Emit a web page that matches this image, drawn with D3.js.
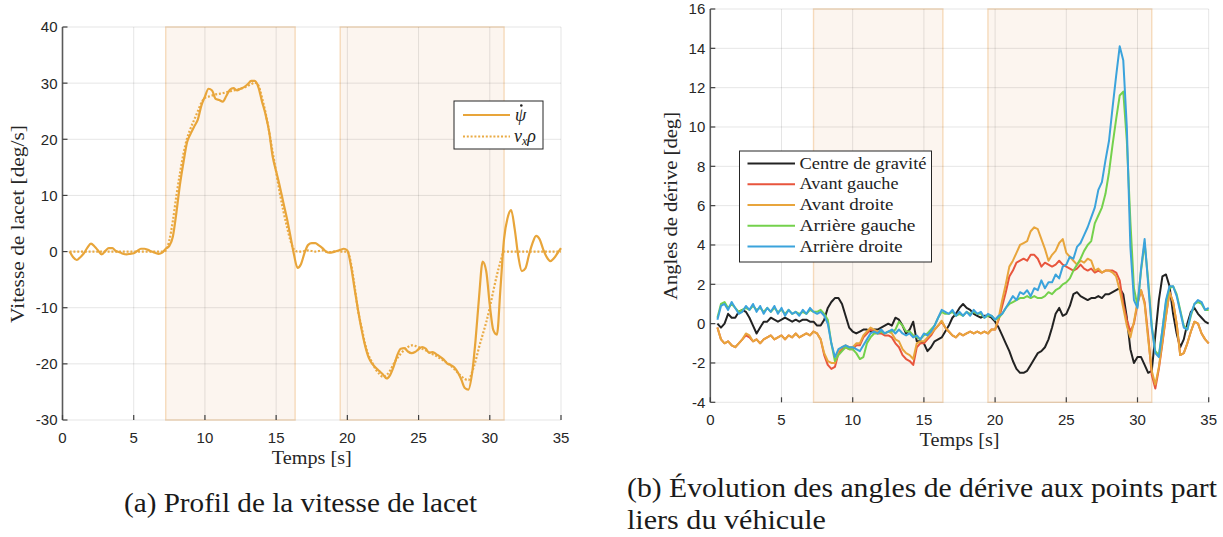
<!DOCTYPE html>
<html><head><meta charset="utf-8">
<script src="https://cdn.jsdelivr.net/npm/d3@7"></script>
<style>body{margin:0;background:#fff}svg{display:block}</style>
</head><body><svg id="c" width="1223" height="537"></svg>
<script>
// ---------------- DATA ----------------
const time = d3.range(0.5, 35.0001, 0.25); // sampling instants [s]
const xTicks = [0, 5, 10, 15, 20, 25, 30, 35];
const yawTicks = [-30, -20, -10, 0, 10, 20, 30, 40];
const slipTicks = [-4, -2, 0, 2, 4, 6, 8, 10, 12, 14, 16];
const shadeIntervals = [[7.25, 16.33], [19.5, 31.0]];

// (a) yaw rate psi-dot [deg/s]
const yawRate = [0.0, -1.0,
 -1.5, -1.0, -0.3, 0.7,
 1.4, 0.9, 0.2, -0.5,
 0.1, 0.6, 0.6, 0.1,
 -0.1, -0.4, -0.5, -0.4,
 -0.3, 0.1, 0.5, 0.5,
 0.3, 0.0, -0.2, -0.4,
 -0.2, 0.5, 1.0, 2.7,
 7.0, 12.0, 16.0, 19.5,
 21.0, 22.3, 23.5, 26.0,
 27.6, 29.0, 28.7, 27.2,
 27.0, 26.7, 27.7, 28.8,
 29.1, 28.7, 29.0, 29.3,
 29.8, 30.4, 30.4, 29.3,
 26.8, 24.5, 21.5, 17.0,
 14.3, 11.7, 8.8, 6.0,
 2.8, -0.5, -2.9, -2.2,
 -0.2, 1.2, 1.5, 1.5,
 1.1, 0.6, 0.0, -0.2,
 -0.1, 0.1, 0.3, 0.5,
 0.2, -2.5, -6.5, -10.4,
 -13.9, -16.8, -18.9, -20.0,
 -20.7, -21.3, -21.9, -22.6,
 -22.0, -20.5, -18.5, -17.3,
 -17.2, -17.8, -18.1, -17.9,
 -17.4, -17.0, -17.3, -18.0,
 -17.9, -18.3, -18.7, -19.2,
 -19.9, -20.2, -20.6, -21.5,
 -22.8, -24.3, -24.6, -21.8,
 -15.8, -8.0, -1.8, -3.5,
 -9.5, -14.0, -14.8, -6.5,
 2.2, 6.0, 7.4, 4.0,
 -0.8, -3.5, -3.0, -0.6,
 1.5, 2.8, 2.2, 0.4,
 -1.0, -1.7, -1.2, -0.3,
 0.6];
// (a) v_x * rho [deg/s]
const yawRef = [0.0, 0.0,
 0.0, 0.0, 0.0, 0.0,
 0.0, 0.0, 0.0, 0.0,
 0.0, 0.0, 0.0, 0.0,
 0.0, 0.0, 0.0, 0.0,
 0.0, 0.0, 0.0, 0.0,
 0.0, 0.0, 0.0, 0.0,
 0.0, 0.2, 2.0, 5.5,
 10.0, 14.0, 17.5, 20.2,
 22.0, 23.5, 25.0, 26.5,
 27.4, 27.6, 27.8, 28.0,
 28.1, 28.2, 28.4, 28.5,
 28.7, 28.8, 29.0, 29.2,
 29.5, 29.8, 30.1, 29.6,
 27.5, 24.8, 21.5, 17.8,
 14.2, 10.5, 7.3, 4.5,
 2.0, 0.4, 0.0, 0.0,
 0.1, 0.2, 0.1, 0.0,
 0.1, 0.2, 0.0, -0.1,
 0.0, 0.1, 0.0, 0.0,
 0.0, -2.0, -6.0, -10.5,
 -13.5, -16.5, -18.5, -19.8,
 -21.0, -21.8, -22.3, -22.0,
 -21.2, -20.0, -19.0, -18.2,
 -17.5, -17.0, -16.7, -16.8,
 -17.0, -17.3, -17.6, -18.0,
 -18.3, -18.6, -19.0, -19.4,
 -19.8, -20.3, -20.9, -21.6,
 -22.2, -22.7, -22.9, -21.5,
 -19.5, -17.0, -14.8, -12.6,
 -10.0, -7.0, -4.2, -1.8,
 0.0, 0.0, 0.0, 0.0,
 0.0, 0.0, 0.0, 0.0,
 0.0, 0.0, 0.0, 0.0,
 0.0, 0.0, 0.0, 0.0,
 0.0];

// (b) slip angles [deg]
const slipCG = [0.0, -0.2,
 0.0, 0.5, 0.3, 0.3,
 0.6, 0.7, 0.6, 0.3,
 -0.1, -0.5, -0.2, 0.1,
 0.1, 0.3, 0.2, 0.1,
 0.2, 0.3, 0.2, 0.1,
 0.2, 0.1, 0.2, 0.2,
 0.1, 0.1, -0.1, -0.1,
 0.2, 0.8, 1.1, 1.3,
 1.3, 1.0, 0.4, -0.2,
 -0.4, -0.5, -0.4, -0.3,
 -0.3, -0.4, -0.3, -0.3,
 -0.2, -0.1, 0.0, -0.1,
 0.3, 0.2, -0.1, -0.5,
 -0.3, 0.1, -0.9, -0.9,
 -1.0, -1.4, -1.2, -0.9,
 -0.8, -0.7, -0.4, -0.1,
 0.3, 0.5, 0.8, 1.0,
 0.8, 0.7, 0.5, 0.4,
 0.3, 0.4, 0.4, 0.3,
 0.1, -0.2, -0.6, -1.0,
 -1.4, -1.9, -2.3, -2.5,
 -2.5, -2.4, -2.1, -1.8,
 -1.5, -1.4, -1.2, -0.8,
 -0.2, 0.5, 0.8, 0.4,
 0.5, 0.9, 1.5, 1.6,
 1.4, 1.3, 1.2, 1.3,
 1.3, 1.4, 1.3, 1.5,
 1.5, 1.6, 1.7, 1.8,
 1.5, 0.3, -1.3, -2.0,
 -1.7, -1.7, -2.1, -2.5,
 -2.4, -0.6, 1.2, 2.4,
 2.5, 1.9, 0.5, -0.5,
 -1.2, -0.8, 0.0, 0.6,
 0.8, 0.5, 0.3, 0.1,
 0.0];
const slipFL = [-0.2, -0.8,
 -1.0, -0.9, -1.1, -1.2,
 -1.0, -0.8, -0.6, -0.7,
 -0.9, -0.8, -1.0, -0.8,
 -0.7, -0.6, -0.8, -0.7,
 -0.6, -0.8, -0.6, -0.7,
 -0.5, -0.7, -0.6, -0.5,
 -0.6, -0.4, -0.5, -0.8,
 -1.6, -2.1, -2.3, -2.2,
 -1.5, -1.3, -1.2, -1.3,
 -1.3, -1.1, -1.1, -0.7,
 -0.5, -0.3, -0.4, -0.5,
 -0.5, -0.6, -0.6, -0.7,
 -1.0, -1.2, -1.6, -1.8,
 -1.9, -2.1, -1.2, -1.0,
 -1.0, -0.8, -0.6, -0.3,
 -0.1, 0.1, -0.2, -0.4,
 -0.6, -0.7, -0.5, -0.6,
 -0.5, -0.4, -0.5, -0.4,
 -0.5, -0.4, -0.5, -0.3,
 -0.3, 0.2, 0.9, 1.6,
 2.4, 2.7, 3.1, 3.2,
 3.3, 3.2, 3.5, 3.5,
 3.3, 2.9, 3.1, 3.0,
 2.9, 3.0, 3.2, 3.0,
 2.9, 2.8, 2.7, 2.8,
 3.0, 2.8, 2.7, 2.8,
 2.6, 2.7, 2.6, 2.7,
 2.7, 2.7, 2.6, 2.2,
 1.0, 0.2, -0.4, 0.0,
 1.0, 1.7, 1.1, -0.6,
 -2.6, -3.3, -2.3, -1.0,
 0.4, 1.6, 1.1, 0.0,
 -1.6, -1.5, -1.0, -0.4,
 0.1, 0.0, -0.5, -0.8,
 -1.0];
const slipFR = [-0.2, -0.8,
 -1.0, -0.9, -1.1, -1.2,
 -1.0, -0.8, -0.5, -0.6,
 -0.9, -0.8, -1.0, -0.8,
 -0.7, -0.6, -0.8, -0.7,
 -0.6, -0.8, -0.6, -0.7,
 -0.5, -0.7, -0.6, -0.5,
 -0.6, -0.4, -0.5, -0.8,
 -1.5, -1.9, -2.0, -2.0,
 -1.4, -1.2, -1.1, -1.2,
 -1.2, -1.0, -1.0, -0.6,
 -0.4, -0.2, -0.3, -0.4,
 -0.4, -0.5, -0.4, -0.5,
 -0.8, -0.9, -1.3, -1.5,
 -1.6, -1.8, -1.0, -0.9,
 -0.9, -0.7, -0.5, -0.3,
 -0.1, 0.15, -0.2, -0.4,
 -0.6, -0.7, -0.5, -0.6,
 -0.5, -0.4, -0.5, -0.4,
 -0.5, -0.4, -0.5, -0.3,
 -0.3, 0.3, 1.2, 2.0,
 2.9, 3.2, 3.6, 4.0,
 4.1, 4.2, 4.7, 4.9,
 4.8, 4.3, 3.8, 3.2,
 3.5, 3.7, 4.1, 4.3,
 3.6, 3.4, 3.2, 3.0,
 3.2, 3.1, 3.3, 3.2,
 2.7, 2.8, 2.6, 2.7,
 2.7, 2.6, 2.4, 1.7,
 0.8, -0.1, -0.7, 0.1,
 1.1, 1.7, 1.0, -0.8,
 -2.4, -3.1, -2.2, -0.9,
 0.4, 1.6, 1.1, 0.0,
 -1.6, -1.5, -1.0, -0.4,
 0.1, 0.0, -0.5, -0.8,
 -1.0];
const slipRL = [0.3, 1.0,
 1.1, 0.8, 1.0, 0.8,
 0.6, 0.7, 0.8, 0.7,
 0.9, 0.7, 0.8, 0.6,
 0.8, 0.6, 0.8, 0.6,
 0.7, 0.5, 0.7, 0.5,
 0.6, 0.5, 0.6, 0.5,
 0.7, 0.6, 0.6, 0.7,
 0.5, 0.2, -1.0, -1.9,
 -1.6, -1.4, -1.2, -1.3,
 -1.3, -1.5, -1.8, -1.7,
 -1.0, -0.7, -0.5, -0.5,
 -0.4, -0.5, -0.4, -0.4,
 -0.3, 0.1, -0.1, -0.4,
 -0.4, -0.6, -0.7, -0.8,
 -0.6, -0.5, -0.3, -0.1,
 0.3, 0.6, 0.5, 0.5,
 0.6, 0.4, 0.5, 0.4,
 0.6, 0.5, 0.6, 0.5,
 0.5, 0.3, 0.4, 0.4,
 0.2, 0.3, 0.5, 0.8,
 1.0, 1.1, 1.2, 1.3,
 1.3, 1.4, 1.3, 1.4,
 1.3, 1.3, 1.4, 1.6,
 1.5, 1.7, 1.8, 2.0,
 2.1, 2.3, 2.7, 3.0,
 3.3, 3.7, 4.0, 4.2,
 5.1, 5.5, 5.9, 6.6,
 7.7, 9.1, 10.4, 11.6,
 11.8, 9.3, 5.2, 1.8,
 0.9, 2.7, 4.1, 2.2,
 -0.1, -1.4, -1.6, -0.3,
 1.1, 1.8, 1.9, 1.5,
 0.7, -0.1, -0.3, 0.4,
 1.0, 1.1, 1.0, 0.7,
 0.7];
const slipRR = [0.2, 0.9,
 1.0, 0.7, 1.1, 0.8,
 0.5, 0.6, 0.9, 0.7,
 1.0, 0.6, 0.9, 0.5,
 0.8, 0.6, 0.9, 0.5,
 0.8, 0.4, 0.7, 0.5,
 0.6, 0.4, 0.7, 0.5,
 0.8, 0.6, 0.5, 0.6,
 0.4, 0.0, -1.0, -1.7,
 -1.3, -1.2, -1.1, -1.2,
 -1.2, -1.3, -1.4, -1.1,
 -0.8, -0.5, -0.4, -0.5,
 -0.3, -0.5, -0.4, -0.3,
 -0.5, -0.3, -0.5, -0.6,
 -0.5, -0.7, -0.6, -0.8,
 -0.5, -0.6, -0.4, -0.1,
 0.3, 0.7, 0.6, 0.5,
 0.7, 0.4, 0.6, 0.4,
 0.6, 0.4, 0.7, 0.5,
 0.6, 0.3, 0.5, 0.4,
 0.2, 0.4, 0.5, 0.8,
 1.1, 1.4, 1.2, 1.6,
 1.5, 1.7, 1.4, 1.8,
 1.7, 2.2, 1.8, 2.1,
 2.1, 2.5, 2.3, 2.9,
 3.0, 3.4, 3.3, 3.9,
 4.1, 4.5, 4.9, 5.4,
 5.9, 6.8, 7.2, 8.3,
 9.3, 11.0, 12.6, 14.1,
 13.4, 10.0, 3.9, 1.2,
 0.8, 2.8, 4.3, 2.0,
 -0.2, -1.5, -1.7, -0.3,
 1.2, 1.9, 1.9, 1.4,
 0.6, -0.2, -0.3, 0.5,
 1.0, 1.2, 1.1, 0.7,
 0.8];

const slipNames = ["Centre de gravité", "Avant gauche", "Avant droite", "Arrière gauche", "Arrière droite"];
const slipColors = ["#222222", "#e8553d", "#e8a53c", "#74d14c", "#3ba3dc"];
const slipSeries = [slipCG, slipFL, slipFR, slipRL, slipRR];

// ---------------- DRAW ----------------
const svg = d3.select("#c");
svg.append("rect").attr("width", 1223).attr("height", 537).attr("fill", "#fff");

function panel(o) {
  const x = d3.scaleLinear().domain([0, 35]).range([o.x0, o.x1]);
  const y = d3.scaleLinear().domain(o.yDomain).range([o.yB, o.yT]);
  const g = svg.append("g");
  // shaded intervals
  g.selectAll("rect.sh").data(shadeIntervals).join("rect")
    .attr("x", d => x(d[0])).attr("width", d => x(d[1]) - x(d[0]))
    .attr("y", o.yT).attr("height", o.yB - o.yT)
    .attr("fill", "#fcf5ef").attr("stroke", "#f6dabb").attr("stroke-width", 1.4);
  // grid
  g.selectAll("line.gx").data(xTicks.slice(1)).join("line")
    .attr("x1", d => x(d)).attr("x2", d => x(d)).attr("y1", o.yT).attr("y2", o.yB)
    .attr("stroke", "rgba(0,0,0,0.1)").attr("stroke-width", 1);
  g.selectAll("line.gy").data(o.yTicks).join("line")
    .attr("y1", d => y(d)).attr("y2", d => y(d)).attr("x1", o.x0).attr("x2", o.x1)
    .attr("stroke", "rgba(0,0,0,0.1)").attr("stroke-width", 1);
  // data lines
  o.series.forEach(s => {
    const line = d3.line().x((d, i) => x(time[i])).y(d => y(d)).curve(s.curve || d3.curveLinear);
    g.append("path").datum(s.values).attr("d", line)
      .attr("fill", "none").attr("stroke", s.color).attr("stroke-width", s.width || 2)
      .attr("stroke-linejoin", "round")
      .attr("stroke-dasharray", s.dash || null);
  });
  // axes
  g.append("line").attr("x1", o.x0).attr("x2", o.x0).attr("y1", o.yT).attr("y2", o.yB)
    .attr("stroke", "#5a5a5a").attr("stroke-width", 1.6);
  g.selectAll("line.ty").data(o.yTicks).join("line")
    .attr("x1", o.x0).attr("x2", o.x0 + 5).attr("y1", d => y(d)).attr("y2", d => y(d))
    .attr("stroke", "#404040").attr("stroke-width", 1.2);
  g.selectAll("line.tx").data(xTicks).join("line")
    .attr("x1", d => x(d)).attr("x2", d => x(d)).attr("y1", o.yB).attr("y2", o.yB - 5)
    .attr("stroke", "#404040").attr("stroke-width", 1.2);
  g.selectAll("text.ly").data(o.yTicks).join("text")
    .attr("x", o.x0 - 5).attr("y", d => y(d)).attr("dy", "0.36em")
    .attr("text-anchor", "end").attr("font-family", "Liberation Sans, Arial, sans-serif")
    .attr("font-size", 15).attr("fill", "#262626").text(d => d);
  g.selectAll("text.lx").data(xTicks).join("text")
    .attr("x", d => x(d)).attr("y", o.yB + 23)
    .attr("text-anchor", "middle").attr("font-family", "Liberation Sans, Arial, sans-serif")
    .attr("font-size", 15).attr("fill", "#262626").text(d => d);
  // axis titles
  g.append("text").attr("x", (o.x0 + o.x1) / 2).attr("y", o.yB + 44)
    .attr("text-anchor", "middle").attr("font-family", "Liberation Serif, serif")
    .attr("font-size", 18).attr("fill", "#262626")
    .attr("textLength", 80).attr("lengthAdjust", "spacingAndGlyphs").text("Temps [s]");
  g.append("text").attr("transform", `translate(${o.ylabX},${o.ylabY}) rotate(-90)`)
    .attr("text-anchor", "middle").attr("font-family", "Liberation Serif, serif")
    .attr("font-size", 18).attr("fill", "#262626")
    .attr("textLength", o.ylabLen).attr("lengthAdjust", "spacingAndGlyphs").text(o.ylab);
  return {x, y, g};
}

// Panel (a)
const pa = panel({
  x0: 62.5, x1: 561, yT: 27, yB: 420, yDomain: [-30, 40], yTicks: yawTicks,
  ylab: "Vitesse de lacet [deg/s]", ylabX: 24, ylabY: 224, ylabLen: 198,
  series: [
    {values: yawRef, color: "#eaab45", dash: "2,1.8", width: 2.2, curve: d3.curveMonotoneX},
    {values: yawRate, color: "#e8a53a", width: 2.2, curve: d3.curveMonotoneX}
  ]
});
// legend (a)
{
  const g = svg.append("g");
  g.append("rect").attr("x", 454).attr("y", 101).attr("width", 89).attr("height", 48)
    .attr("fill", "#fff").attr("stroke", "#262626").attr("stroke-width", 1);
  g.append("line").attr("x1", 463).attr("x2", 510).attr("y1", 115).attr("y2", 115)
    .attr("stroke", "#e8a53a").attr("stroke-width", 2.2);
  g.append("line").attr("x1", 463).attr("x2", 510).attr("y1", 136.5).attr("y2", 136.5)
    .attr("stroke", "#eaab45").attr("stroke-width", 2.2).attr("stroke-dasharray", "2,1.8");
  g.append("text").attr("x", 515).attr("y", 121).attr("font-family", "Liberation Serif, serif")
    .attr("font-style", "italic").attr("font-size", 18).attr("fill", "#222").text("ψ");
  // the derivative dot over psi
  g.append("circle").attr("cx", 521.3).attr("cy", 105.5).attr("r", 1.3).attr("fill", "#222");
  const t = g.append("text").attr("x", 514).attr("y", 142).attr("font-family", "Liberation Serif, serif")
    .attr("font-style", "italic").attr("font-size", 18).attr("fill", "#222");
  t.append("tspan").text("v");
  t.append("tspan").attr("font-size", 12).attr("dy", 3).text("x");
  t.append("tspan").attr("dy", -3).text("ρ");
}

// Panel (b)
const pb = panel({
  x0: 710.3, x1: 1208.7, yT: 9, yB: 402.3, yDomain: [-4, 16], yTicks: slipTicks,
  ylab: "Angles de dérive [deg]", ylabX: 677, ylabY: 206, ylabLen: 188,
  series: slipSeries.map((v, i) => ({values: v, color: slipColors[i], width: 2}))
});
// legend (b)
{
  const g = svg.append("g");
  g.append("rect").attr("x", 739.5).attr("y", 151).attr("width", 192).attr("height", 111)
    .attr("fill", "#fff").attr("stroke", "#262626").attr("stroke-width", 1);
  const rowY = d3.scaleLinear().domain([0, 4]).range([163.5, 246.5]);
  const lens = [127, 99, 94, 116, 103];
  slipNames.forEach((n, i) => {
    g.append("line").attr("x1", 747.5).attr("x2", 795).attr("y1", rowY(i)).attr("y2", rowY(i))
      .attr("stroke", slipColors[i]).attr("stroke-width", 2);
    g.append("text").attr("x", 799.5).attr("y", rowY(i) + 5).attr("font-family", "Liberation Serif, serif")
      .attr("font-size", 16.5).attr("fill", "#222")
      .attr("textLength", lens[i]).attr("lengthAdjust", "spacingAndGlyphs").text(n);
  });
}

// captions
svg.append("text").attr("x", 124).attr("y", 512).attr("font-family", "Liberation Serif, serif")
  .attr("font-size", 28).attr("fill", "#1a1a1a").attr("textLength", 353).attr("lengthAdjust", "spacingAndGlyphs")
  .text("(a) Profil de la vitesse de lacet");
svg.append("text").attr("x", 627).attr("y", 497).attr("font-family", "Liberation Serif, serif")
  .attr("font-size", 28).attr("fill", "#1a1a1a").attr("textLength", 590).attr("lengthAdjust", "spacingAndGlyphs")
  .text("(b) Évolution des angles de dérive aux points part");
svg.append("text").attr("x", 627).attr("y", 529).attr("font-family", "Liberation Serif, serif")
  .attr("font-size", 28).attr("fill", "#1a1a1a").attr("textLength", 199).attr("lengthAdjust", "spacingAndGlyphs")
  .text("liers du véhicule");
</script></body></html>
